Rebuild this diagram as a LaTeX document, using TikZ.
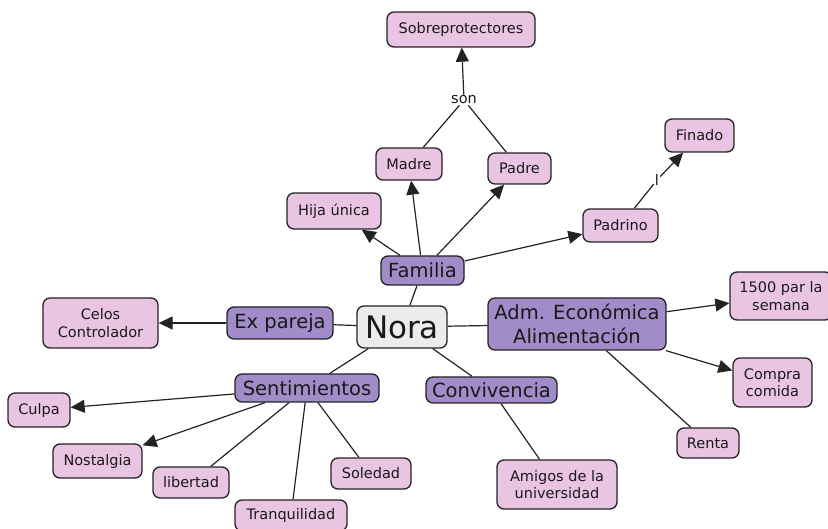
\documentclass[tikz,border=0pt]{standalone}
\usepackage{fontspec}
\setmainfont{DejaVu Sans}
\usetikzlibrary{arrows.meta}
\definecolor{pinkfill}{RGB}{233,197,227}
\definecolor{purplefill}{RGB}{161,139,200}
\definecolor{norafill}{RGB}{236,236,236}
\definecolor{edgecol}{RGB}{35,35,35}
\begin{document}
\begin{tikzpicture}[x=1pt,y=-1pt,
 box/.style={draw=edgecol, line width=1.3pt, rounded corners=7pt, align=center, inner sep=0pt, text=black!90},
 leaf/.style={box, fill=pinkfill, font=\fontsize{14.5}{17.5}\selectfont},
 topic/.style={box, fill=purplefill, font=\fontsize{19.5}{24}\selectfont},
 rootbox/.style={box, fill=norafill, font=\fontsize{31}{36}\selectfont},
 link/.style={line width=1.2pt, draw=edgecol},
 arr/.style={link, -{Triangle[length=14pt,width=13pt]}},
 lbl/.style={font=\fontsize{14.5}{17}\selectfont, inner sep=1pt, fill=white, text=black!90}
]
\useasboundingbox (0,0) rectangle (828,529);
% nodes
\node[leaf, minimum width=148pt, minimum height=35pt] (sob) at (461,29.5) {Sobreprotectores};
\node[lbl] (son) at (464,100) {son};
\node[leaf, minimum width=66pt, minimum height=32pt] (madre) at (409,164) {Madre};
\node[leaf, minimum width=63pt, minimum height=31pt] (padre) at (519.5,168.5) {Padre};
\node[leaf, minimum width=94pt, minimum height=36pt] (hija) at (334,211) {Hija única};
\node[topic, minimum width=83pt, minimum height=29pt] (fam) at (422.5,270.5) {Familia};
\node[leaf, minimum width=69pt, minimum height=33pt] (finado) at (699.5,135.5) {Finado};
\node[lbl] (ele) at (657,180) {l};
\node[leaf, minimum width=75pt, minimum height=33pt] (padrino) at (620.5,225.5) {Padrino};
\node[rootbox, minimum width=90pt, minimum height=42pt] (nora) at (402,327) {Nora};
\node[topic, minimum width=106pt, minimum height=32pt] (expareja) at (280,323) {Ex pareja};
\node[leaf, minimum width=115pt, minimum height=50pt] (celos) at (100.5,323) {Celos\\Controlador};
\node[topic, minimum width=178pt, minimum height=52pt] (adm) at (577,324) {Adm. Económica\\Alimentación};
\node[leaf, minimum width=102pt, minimum height=48pt] (s1500) at (781,296) {1500 par la\\semana};
\node[leaf, minimum width=79pt, minimum height=49pt] (compra) at (772.5,382.5) {Compra\\comida};
\node[leaf, minimum width=62pt, minimum height=30pt] (renta) at (708,443) {Renta};
\node[topic, minimum width=131pt, minimum height=26pt] (conv) at (491.5,390) {Convivencia};
\node[leaf, minimum width=120pt, minimum height=49pt] (amigos) at (557,484.5) {Amigos de la\\universidad};
\node[topic, minimum width=144pt, minimum height=28pt] (sent) at (307,388) {Sentimientos};
\node[leaf, minimum width=62pt, minimum height=34pt] (culpa) at (39,410) {Culpa};
\node[leaf, minimum width=89pt, minimum height=34pt] (nost) at (97.5,461) {Nostalgia};
\node[leaf, minimum width=76pt, minimum height=31pt] (libertad) at (191,482.5) {libertad};
\node[leaf, minimum width=80pt, minimum height=31pt] (soledad) at (371,473.5) {Soledad};
\node[leaf, minimum width=112pt, minimum height=31pt] (tranq) at (291,515.5) {Tranquilidad};
% connectors
\draw[link] (madre) -- (son);
\draw[link] (padre) -- (son);
\draw[arr] (son) -- (sob);
\draw[arr] (fam) -- (hija);
\draw[arr] (fam) -- (madre);
\draw[arr] (fam) -- (padre);
\draw[arr] (fam) -- (padrino);
\draw[link] (padrino) -- (ele);
\draw[arr] (ele) -- (finado);
\draw[link] (nora) -- (fam);
\draw[link] (nora) -- (expareja);
\draw[arr] (expareja) -- (celos);
\draw[link] (nora) -- (adm);
\draw[arr] (adm) -- (s1500);
\draw[arr] (adm) -- (compra);
\draw[link] (adm) -- (renta);
\draw[link] (nora) -- (conv);
\draw[link] (conv) -- (amigos);
\draw[link] (nora) -- (sent);
\draw[arr] (sent) -- (culpa);
\draw[arr] (sent) -- (nost);
\draw[link] (sent) -- (libertad);
\draw[link] (sent) -- (tranq);
\draw[link] (sent) -- (soledad);
\end{tikzpicture}
\end{document}
